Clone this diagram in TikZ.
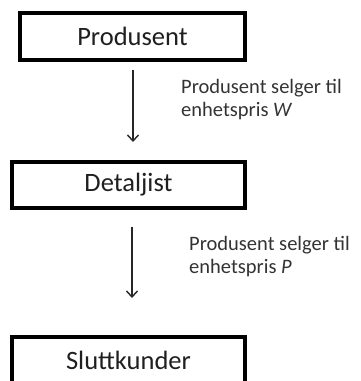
\documentclass[tikz,border=0pt]{standalone}
\usepackage{fontspec}
\setmainfont{Carlito}
\usetikzlibrary{arrows.meta}
\begin{document}
\begin{tikzpicture}[x=1pt,y=-1pt,
  stagebox/.style={draw=black, line width=3.3pt, fill=white, inner sep=0pt,
    font=\fontsize{26.5}{30}\selectfont, text=black!88},
  flowarrow/.style={line width=1.4pt, draw=black!85,
    -{Straight Barb[length=6pt,width=11pt,line width=1.4pt]}},
  pricelabel/.style={anchor=west, align=left, inner sep=0pt, text=black!80,
    font=\fontsize{20.5}{23}\selectfont}]
\useasboundingbox (0,0) rectangle (360,381);
\node[stagebox, minimum width=225pt, minimum height=47pt] (prod) at (132.5,36.5) {Produsent};
\node[stagebox, minimum width=233pt, minimum height=46pt] (det) at (128.5,185) {Detaljist};
\node[stagebox, minimum width=233pt, minimum height=46pt] (slutt) at (128.5,360) {Sluttkunder};
\coordinate (a1s) at (133,70);
\coordinate (a1e) at (133,142);
\coordinate (a2s) at (132,227);
\coordinate (a2e) at (132,298);
\draw[flowarrow] (a1s) -- (a1e);
\draw[flowarrow] (a2s) -- (a2e);
\node[pricelabel] (lab1) at (181,100) {Produsent selger til\\enhetspris \textit{W}};
\node[pricelabel] (lab2) at (189,257) {Produsent selger til\\enhetspris \textit{P}};
\end{tikzpicture}
\end{document}
